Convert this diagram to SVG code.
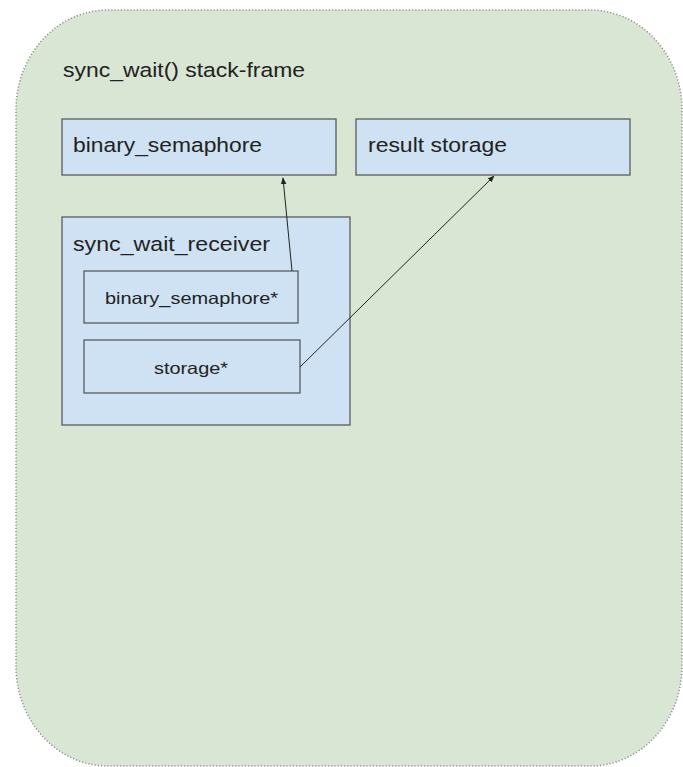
<svg xmlns="http://www.w3.org/2000/svg" width="683" height="767" viewBox="0 0 683 767">
  <style>
    .frame { fill: #d9e6d3; stroke: #8f8f8f; stroke-width: 1.5; stroke-dasharray: 1.2 2; }
    .box { fill: #cfe2f3; stroke: #5f6668; stroke-width: 1.4; }
    .lbl { font-family: "Liberation Sans", Arial, sans-serif; fill: #222222; }
    .big { font-size: 20.5px; }
    .small { font-size: 16.5px; }
    .conn { fill: none; stroke: #222222; stroke-width: 1; }
  </style>
  <defs>
    <marker id="head" viewBox="0 0 10 10" refX="9" refY="5" markerWidth="7" markerHeight="7" orient="auto" markerUnits="userSpaceOnUse">
      <path d="M0,1 L10,5 L0,9 Z" fill="#222222"/>
    </marker>
  </defs>

  <g id="stack-frame">
    <rect class="frame" x="16" y="10" width="666" height="756" rx="92" ry="100"/>
    <text class="lbl big" x="63" y="77" textLength="242" lengthAdjust="spacingAndGlyphs">sync_wait() stack-frame</text>
  </g>

  <g id="binary-semaphore">
    <rect class="box" x="62" y="119" width="274" height="56"/>
    <text class="lbl big" x="73" y="152" textLength="189" lengthAdjust="spacingAndGlyphs">binary_semaphore</text>
  </g>

  <g id="result-storage">
    <rect class="box" x="356" y="119" width="274" height="56"/>
    <text class="lbl big" x="368" y="152" textLength="139" lengthAdjust="spacingAndGlyphs">result storage</text>
  </g>

  <g id="sync-wait-receiver">
    <rect class="box" x="62" y="217" width="288" height="208"/>
    <text class="lbl big" x="73" y="251" textLength="197" lengthAdjust="spacingAndGlyphs">sync_wait_receiver</text>
  </g>

  <g id="semaphore-ptr">
    <rect class="box" x="84" y="271" width="214" height="52"/>
    <text class="lbl small" x="105" y="304" textLength="173" lengthAdjust="spacingAndGlyphs">binary_semaphore*</text>
  </g>

  <g id="storage-ptr">
    <rect class="box" x="84" y="340" width="216" height="53"/>
    <text class="lbl small" x="154" y="374" textLength="74" lengthAdjust="spacingAndGlyphs">storage*</text>
  </g>

  <g id="connectors">
    <line class="conn" x1="292" y1="271" x2="283" y2="178" marker-end="url(#head)"/>
    <line class="conn" x1="300" y1="367" x2="494" y2="176" marker-end="url(#head)"/>
  </g>
</svg>
